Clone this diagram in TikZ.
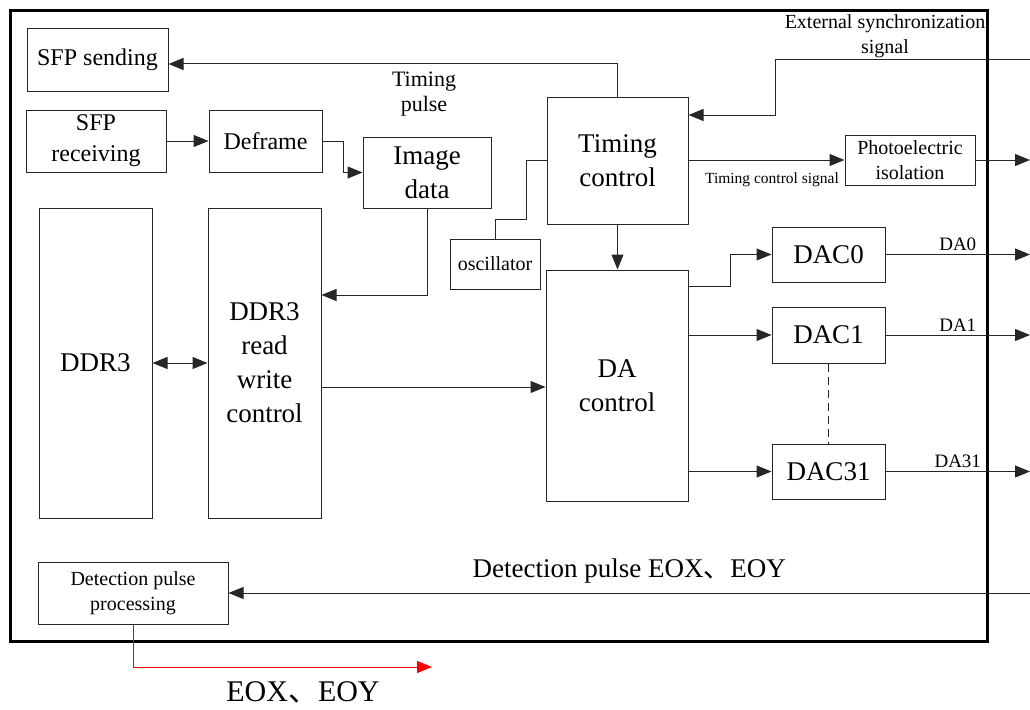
\documentclass[tikz,border=0pt]{standalone}
\usepackage{fontspec}
\setmainfont{Liberation Serif}
\newfontfamily\cjk{Noto Sans CJK SC}
\usetikzlibrary{arrows.meta}
\tikzstyle{block} = [draw=black!85, line width=1pt, rectangle, inner sep=2pt, align=center]
\tikzstyle{bigtext} = [font=\fontsize{27}{34}\selectfont]
\tikzstyle{midtext} = [font=\fontsize{24}{31}\selectfont]
\tikzstyle{smalltext} = [font=\fontsize{20}{25}\selectfont]
\tikzstyle{tinytext} = [font=\fontsize{15.5}{18}\selectfont]
\tikzstyle{wire} = [draw=black!85, line width=1pt]
\tikzstyle{arr} = [wire, -{Triangle[length=15pt,width=12pt]}]

\begin{document}
\begin{tikzpicture}[x=1pt,y=-1pt]
\useasboundingbox (0,0) rectangle (1030,709);
% board outline
\draw[line width=3pt] (10,11) rectangle (987,641);
\coordinate (edge) at (1030,0);

% blocks
\node[block, midtext, minimum width=141pt, minimum height=62pt] (sfpsend) at (97.5,60) {SFP sending};
\node[block, midtext, minimum width=140pt, minimum height=62pt] (sfprecv) at (96,141) {SFP\\receiving};
\node[block, midtext, minimum width=113pt, minimum height=62pt] (deframe) at (265.5,141) {Deframe};
\node[block, bigtext, minimum width=128pt, minimum height=71pt] (imgdata) at (427,172.5) {Image\\data};
\node[block, bigtext, minimum width=141pt, minimum height=127pt] (timing) at (617.5,160.5) {Timing\\control};
\node[block, smalltext, minimum width=90pt, minimum height=50pt] (osc) at (495,264) {oscillator};
\node[block, smalltext, minimum width=130pt, minimum height=50pt] (photo) at (910,160) {Photoelectric\\isolation};
\node[block, bigtext, minimum width=113pt, minimum height=310pt] (ddr) at (95.5,363) {DDR3};
\node[block, bigtext, minimum width=113pt, minimum height=310pt] (ddrctrl) at (264.5,363) {DDR3\\read\\write\\control};
\node[block, bigtext, minimum width=142pt, minimum height=231pt] (dactrl) at (617,385.5) {DA\\control};
\node[block, bigtext, minimum width=113pt, minimum height=55pt] (dac0) at (828.5,254.5) {DAC0};
\node[block, bigtext, minimum width=113pt, minimum height=56pt] (dac1) at (828.5,335) {DAC1};
\node[block, bigtext, minimum width=113pt, minimum height=55pt] (dac31) at (828.5,471.5) {DAC31};
\node[block, smalltext, minimum width=190pt, minimum height=62pt] (detect) at (133,593) {Detection pulse\\processing};

% labels
\node[smalltext, font=\fontsize{22}{25}\selectfont, align=center] (pulse) at (424,94) {Timing\\pulse};
\node[smalltext, align=center] (sync) at (885,36) {External synchronization\\signal};
\node[tinytext] (tcs) at (772,180) {Timing control signal};

% connections
\draw[arr] (timing.north) |- (sfpsend.east |- 0,64);
\draw[arr] (sfprecv) -- (deframe);
\draw[arr] (deframe.east) -- ++(21,0) |- (imgdata.west);
\draw[arr] (imgdata.south) |- (ddrctrl.east |- 0,295);
\draw[wire, {Triangle[length=15pt,width=12pt]}-{Triangle[length=15pt,width=12pt]}] (ddr) -- (ddrctrl);
\draw[arr] (ddrctrl.east |- 0,387) -- (dactrl.west |- 0,387);
\draw[wire] (osc.north) |- (526,219) |- (timing.west);
\draw[arr] (timing.south) -- (timing.south |- dactrl.north);
\draw[arr] (timing.east |- photo.west) -- (photo.west);
\draw[arr] (photo.east) -- (photo.east -| edge);
\draw[arr] (edge |- 0,60) -- (775,60) |- (timing.east |- 0,115);

% DA channels
\draw[arr] (dactrl.east |- 0,286) -- (730,286) |- (dac0.west);
\draw[arr] (dactrl.east |- dac1.west) -- (dac1.west);
\draw[arr] (dactrl.east |- dac31.west) -- (dac31.west);
\draw[wire, dash pattern=on 8pt off 5pt] (dac1.south) -- (dac31.north);
\draw[arr] (dac0.east) -- (dac0.east -| edge) node[midway, above, smalltext, font=\fontsize{19}{22}\selectfont] {DA0};
\draw[arr] (dac1.east) -- (dac1.east -| edge) node[midway, above, smalltext, font=\fontsize{19}{22}\selectfont] {DA1};
\draw[arr] (dac31.east) -- (dac31.east -| edge) node[midway, above, smalltext, font=\fontsize{19}{22}\selectfont] {DA31};

% detection pulse path
\draw[arr] (detect.east -| edge) -- (detect.east) node[midway, above=6pt, bigtext] {Detection pulse EOX{\cjk 、}EOY};
\draw[arr, draw=red] (detect.south) |- (432,667);
\node[font=\fontsize{30}{34}\selectfont] (eoxy) at (303,692) {EOX{\cjk 、}EOY};
\end{tikzpicture}
\end{document}
